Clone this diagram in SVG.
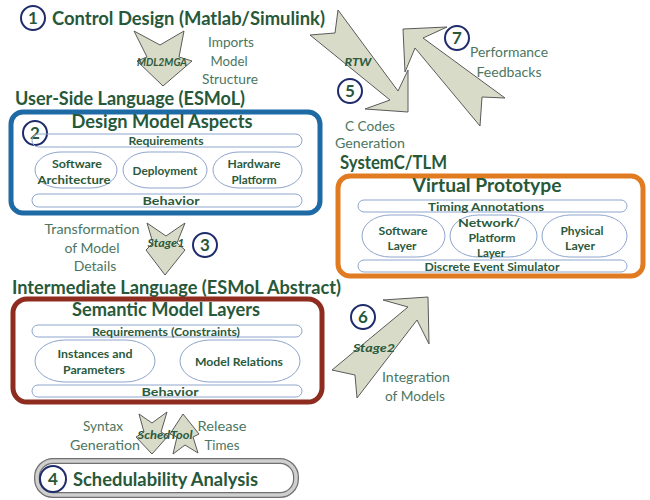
<svg xmlns="http://www.w3.org/2000/svg" width="650" height="500" viewBox="0 0 650 500">
  <style>
    text { font-family: Lato, "Open Sans", "Liberation Sans", sans-serif; }
    .big { font-size: 18.5px; font-weight: bold; fill: #27583a; }
    .lab { font-size: 14px; fill: #4c765f; }
    .in { font-size: 12px; font-weight: bold; fill: #2b5a3c; }
    .it { font-size: 11px; font-weight: bold; font-style: italic; fill: #2b5a3c; }
    .num { font-size: 17px; font-weight: bold; fill: #27583a; }
    .mid { text-anchor: middle; }
    .badge { fill: #ffffff; stroke: #1f2c6b; stroke-width: 2; }
    .pill { fill: none; stroke: #8ea5cc; stroke-width: 1; }
    .arrow { fill: #d9dbc9; stroke: #5a5a5a; stroke-width: 1; stroke-linejoin: miter; }
  </style>

  <rect width="650" height="500" fill="#ffffff"/>

  <!-- connectors: block arrows between the stages -->
  <g id="connectors">
    <polygon class="arrow" points="134,31 160,45 184,31 179,57 192,61 163,86 137,61 147,57"/>
    <text class="it mid" x="162" y="66" textLength="50" lengthAdjust="spacingAndGlyphs">MDL2MGA</text>

    <polygon class="arrow" points="403,29 447,27 423,38 505,98 482,97 480,126 415,48 405,72"/>
    <polygon class="arrow" points="338,10 398,91 408,70 408,112 365,109 390,100 310,35 335,33"/>
    <text class="it mid" x="358" y="66" textLength="27" lengthAdjust="spacingAndGlyphs">RTW</text>

    <polygon class="arrow" points="147,223 166,236 185,223 177,243 185,250 165,275 146,250 153,243"/>
    <text class="it mid" x="166" y="247" textLength="37" lengthAdjust="spacingAndGlyphs">Stage1</text>

    <polygon class="arrow" points="428,297 429,344 417,320 357,398 355,375 332,370 408,307 383,300"/>
    <text class="it mid" x="374" y="352" textLength="42" lengthAdjust="spacingAndGlyphs">Stage2</text>

    <polygon class="arrow" points="139,414 152,423 167,412 161,432 168,436 152,454 136,437 144,432"/>
    <polygon class="arrow" points="183,414 199,434 193,437 198,453 185,445 173,454 177,437 170,434"/>
    <text class="it mid" x="165" y="439" textLength="55" lengthAdjust="spacingAndGlyphs">SchedTool</text>
  </g>

  <!-- arrow captions -->
  <g id="captions">
    <text class="lab mid" x="231" y="47" textLength="46" lengthAdjust="spacingAndGlyphs">Imports</text>
    <text class="lab mid" x="229" y="66" textLength="37" lengthAdjust="spacingAndGlyphs">Model</text>
    <text class="lab mid" x="230" y="84" textLength="56" lengthAdjust="spacingAndGlyphs">Structure</text>

    <text class="lab mid" x="509" y="57" textLength="78" lengthAdjust="spacingAndGlyphs">Performance</text>
    <text class="lab mid" x="509" y="77" textLength="65" lengthAdjust="spacingAndGlyphs">Feedbacks</text>

    <text class="lab mid" x="370" y="131" textLength="50" lengthAdjust="spacingAndGlyphs">C Codes</text>
    <text class="lab mid" x="370" y="148" textLength="70" lengthAdjust="spacingAndGlyphs">Generation</text>

    <text class="lab mid" x="92" y="234" textLength="95" lengthAdjust="spacingAndGlyphs">Transformation</text>
    <text class="lab mid" x="92" y="253" textLength="55" lengthAdjust="spacingAndGlyphs">of Model</text>
    <text class="lab mid" x="95" y="271">Details</text>

    <text class="lab mid" x="416" y="382" textLength="68" lengthAdjust="spacingAndGlyphs">Integration</text>
    <text class="lab mid" x="415" y="401" textLength="60" lengthAdjust="spacingAndGlyphs">of Models</text>

    <text class="lab mid" x="103" y="431" textLength="40" lengthAdjust="spacingAndGlyphs">Syntax</text>
    <text class="lab mid" x="105" y="450" textLength="70" lengthAdjust="spacingAndGlyphs">Generation</text>
    <text class="lab mid" x="222" y="431" textLength="49" lengthAdjust="spacingAndGlyphs">Release</text>
    <text class="lab mid" x="222" y="450" textLength="35" lengthAdjust="spacingAndGlyphs">Times</text>
  </g>

  <!-- step 1: control design -->
  <g id="control-design">
    <circle class="badge" cx="33" cy="18" r="12"/>
    <text class="num mid" x="33" y="24">1</text>
    <text class="big" x="52" y="25" textLength="273" lengthAdjust="spacingAndGlyphs">Control Design (Matlab/Simulink)</text>
  </g>

  <!-- step 2: user-side language -->
  <g id="user-side-language">
    <text class="big" x="15" y="105" textLength="230" lengthAdjust="spacingAndGlyphs">User-Side Language (ESMoL)</text>
    <rect x="11" y="112" width="309" height="101" rx="12" fill="#ffffff" stroke="#1d6aa5" stroke-width="5"/>
    <text class="big mid" x="162" y="128" textLength="181" lengthAdjust="spacingAndGlyphs">Design Model Aspects</text>
    <circle class="badge" cx="35" cy="133" r="12"/>
    <text class="num mid" x="35" y="139">2</text>
    <rect class="pill" x="32" y="134" width="270" height="13" rx="6.5"/>
    <text class="in mid" x="166" y="145" textLength="75" lengthAdjust="spacingAndGlyphs">Requirements</text>
    <rect class="pill" x="35" y="152" width="82" height="36" rx="26" ry="18"/>
    <text class="in mid" x="77" y="168" textLength="50" lengthAdjust="spacingAndGlyphs">Software</text>
    <text class="in mid" x="74" y="184" textLength="73" lengthAdjust="spacingAndGlyphs">Architecture</text>
    <rect class="pill" x="123" y="152" width="84" height="36" rx="26" ry="18"/>
    <text class="in mid" x="165" y="175" textLength="65" lengthAdjust="spacingAndGlyphs">Deployment</text>
    <rect class="pill" x="213" y="152" width="89" height="36" rx="26" ry="18"/>
    <text class="in mid" x="254" y="168" textLength="53" lengthAdjust="spacingAndGlyphs">Hardware</text>
    <text class="in mid" x="254" y="184" textLength="45" lengthAdjust="spacingAndGlyphs">Platform</text>
    <rect class="pill" x="32" y="194" width="270" height="13" rx="6.5"/>
    <text class="in mid" x="171" y="205" textLength="57" lengthAdjust="spacingAndGlyphs">Behavior</text>
  </g>

  <!-- step 3: intermediate language -->
  <g id="intermediate-language">
    <circle class="badge" cx="205" cy="245" r="12"/>
    <text class="num mid" x="205" y="251">3</text>
    <text class="big" x="12" y="294" textLength="329" lengthAdjust="spacingAndGlyphs">Intermediate Language (ESMoL Abstract)</text>
    <rect x="13" y="299" width="309" height="103" rx="14" fill="#ffffff" stroke="#8e2c20" stroke-width="5"/>
    <text class="big mid" x="166" y="316" textLength="188" lengthAdjust="spacingAndGlyphs">Semantic Model Layers</text>
    <rect class="pill" x="32" y="325" width="270" height="12" rx="6"/>
    <text class="in mid" x="166" y="335.5" textLength="148" lengthAdjust="spacingAndGlyphs">Requirements (Constraints)</text>
    <rect class="pill" x="35" y="340" width="120" height="42" rx="30" ry="21"/>
    <text class="in mid" x="95" y="358" textLength="75" lengthAdjust="spacingAndGlyphs">Instances and</text>
    <text class="in mid" x="94" y="374" textLength="62" lengthAdjust="spacingAndGlyphs">Parameters</text>
    <rect class="pill" x="180" y="340" width="120" height="42" rx="30" ry="21"/>
    <text class="in mid" x="239" y="366" textLength="88" lengthAdjust="spacingAndGlyphs">Model Relations</text>
    <rect class="pill" x="32" y="385" width="270" height="12" rx="6"/>
    <text class="in mid" x="170" y="395.5" textLength="57" lengthAdjust="spacingAndGlyphs">Behavior</text>
  </g>

  <!-- step 4: schedulability analysis -->
  <g id="schedulability-analysis">
    <rect x="37" y="461" width="259" height="34" rx="16" fill="#ffffff" stroke="#707070" stroke-width="6"/>
    <rect x="37" y="461" width="259" height="34" rx="16" fill="none" stroke="#cfcfcf" stroke-width="3.5"/>
    <circle class="badge" cx="53" cy="479" r="13"/>
    <text class="num mid" x="53" y="485">4</text>
    <text class="big" x="73" y="486" textLength="185" lengthAdjust="spacingAndGlyphs">Schedulability Analysis</text>
  </g>

  <!-- step 5: code generation -->
  <g id="code-generation">
    <circle class="badge" cx="350" cy="91" r="12"/>
    <text class="num mid" x="350" y="97">5</text>
  </g>

  <!-- step 6: integration -->
  <g id="integration">
    <circle class="badge" cx="363" cy="317" r="12"/>
    <text class="num mid" x="363" y="323">6</text>
  </g>

  <!-- step 7: performance feedback -->
  <g id="performance-feedback">
    <circle class="badge" cx="457" cy="38" r="12"/>
    <text class="num mid" x="457" y="44">7</text>
  </g>

  <!-- SystemC/TLM virtual prototype -->
  <g id="virtual-prototype">
    <text class="big" x="340" y="169" textLength="107" lengthAdjust="spacingAndGlyphs">SystemC/TLM</text>
    <rect x="338" y="176" width="305" height="100" rx="12" fill="#ffffff" stroke="#e17b22" stroke-width="5"/>
    <text class="big mid" x="487" y="192" textLength="149" lengthAdjust="spacingAndGlyphs">Virtual Prototype</text>
    <rect class="pill" x="358" y="200" width="269" height="12" rx="6"/>
    <text class="in mid" x="486" y="210.5" textLength="116" lengthAdjust="spacingAndGlyphs">Timing Annotations</text>
    <rect class="pill" x="362" y="215" width="83" height="42" rx="28" ry="21"/>
    <text class="in mid" x="403" y="235" textLength="49" lengthAdjust="spacingAndGlyphs">Software</text>
    <text class="in mid" x="402" y="250" textLength="29" lengthAdjust="spacingAndGlyphs">Layer</text>
    <rect class="pill" x="450" y="215" width="87" height="42" rx="28" ry="21"/>
    <text class="in mid" x="489" y="227" textLength="62" lengthAdjust="spacingAndGlyphs">Network/</text>
    <text class="in mid" x="492" y="242" textLength="47" lengthAdjust="spacingAndGlyphs">Platform</text>
    <text class="in mid" x="491" y="257" textLength="28" lengthAdjust="spacingAndGlyphs">Layer</text>
    <rect class="pill" x="542" y="215" width="85" height="42" rx="28" ry="21"/>
    <text class="in mid" x="582" y="235" textLength="43" lengthAdjust="spacingAndGlyphs">Physical</text>
    <text class="in mid" x="580" y="250" textLength="30" lengthAdjust="spacingAndGlyphs">Layer</text>
    <rect class="pill" x="358" y="260" width="269" height="12" rx="6"/>
    <text class="in mid" x="492" y="270.5" textLength="135" lengthAdjust="spacingAndGlyphs">Discrete Event Simulator</text>
  </g>
</svg>
